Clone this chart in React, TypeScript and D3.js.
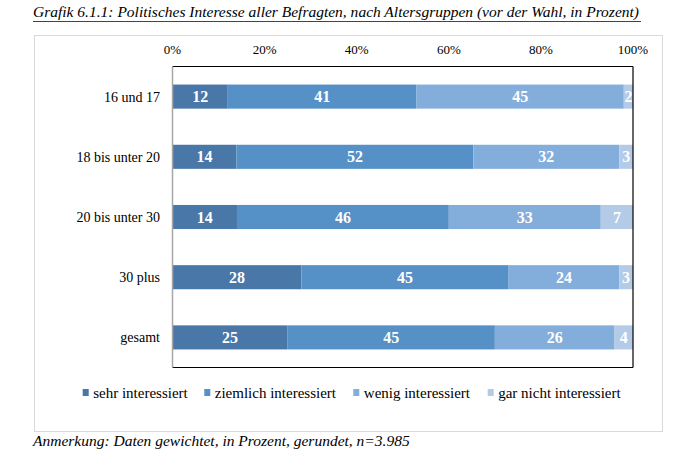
import React from "react";
import * as d3 from "d3";

const categories = ["16 und 17", "18 bis unter 20", "20 bis unter 30", "30 plus", "gesamt"];
const seriesNames = ["sehr interessiert", "ziemlich interessiert", "wenig interessiert", "gar nicht interessiert"];
const sehr = [12, 14, 14, 28, 25];
const ziemlich = [41, 52, 46, 45, 45];
const wenig = [45, 32, 33, 24, 26];
const garNicht = [2, 3, 7, 3, 4];
const tickValues = [0, 0.2, 0.4, 0.6, 0.8, 1];
const colors = ["#4877a8", "#5590c7", "#83aedb", "#b3cbe7"];

const title = "Grafik 6.1.1: Politisches Interesse aller Befragten, nach Altersgruppen (vor der Wahl, in Prozent)";
const note = "Anmerkung: Daten gewichtet, in Prozent, gerundet, n=3.985";

const FONT = "Liberation Serif";

export default function App() {
  const W = 690, H = 459;
  const left = 172.5, right = 633, top = 66.5, bottom = 367.5;
  const x = d3.scaleLinear().domain([0, 1]).range([left, right]);
  const y = d3.scaleBand().domain(categories).range([top, bottom]).paddingInner(0.6).paddingOuter(0.3);
  const series = [sehr, ziemlich, wenig, garNicht];
  const rows = categories.map((c, i) => {
    const o: any = { cat: c };
    seriesNames.forEach((s, k) => (o[s] = series[k][i]));
    return o;
  });
  const stack = d3.stack<any>().keys(seriesNames).offset(d3.stackOffsetExpand);
  const stacked = stack(rows);
  const legendX = [82.7, 204.3, 353.3, 487.7];
  const ts = { fontFamily: FONT };

  return (
    <svg width={W} height={H} style={{ position: "absolute", left: 0, top: 0, fontFamily: FONT }}>
      <rect width={W} height={H} fill="#fff" />
      <text x={33} y={17} fontSize={15.6} fontStyle="italic" fill="#000" style={ts} textLength={606} lengthAdjust="spacingAndGlyphs">
        {title}
      </text>
      <line x1={33} x2={641} y1={21.5} y2={21.5} stroke="#444" strokeWidth={1} />
      <rect x={34.5} y={35.5} width={628} height={396} fill="none" stroke="#d9d9d9" strokeWidth={1} />
      {tickValues.map((t) => (
        <text key={t} x={x(t)} y={54} fontSize={13} textAnchor="middle" fill="#000" style={ts}>
          {d3.format(".0%")(t)}
        </text>
      ))}
      {stacked.map((layer, k) => (
        <g key={layer.key}>
          {layer.map((d, i) => {
            const x0 = x(d[0]);
            const x1 = x(d[1]);
            const cy = (y(categories[i]) as number) + y.bandwidth() / 2;
            return (
              <g key={i}>
                <rect x={x0} y={y(categories[i])} width={x1 - x0} height={y.bandwidth()} fill={colors[k]} />
                <text x={(x0 + x1) / 2} y={cy + 5.5} fontSize={16} fontWeight="bold" fill="#fff" textAnchor="middle" style={ts}>
                  {series[k][i]}
                </text>
              </g>
            );
          })}
        </g>
      ))}
      <line x1={left} x2={right} y1={top} y2={top} stroke="#000" strokeWidth={1.2} />
      <line x1={right} x2={right} y1={top} y2={bottom} stroke="#000" strokeWidth={1.2} />
      <line x1={left} x2={right} y1={bottom} y2={bottom} stroke="#000" strokeWidth={1.2} />
      <line x1={left} x2={left} y1={top} y2={bottom} stroke="#a6a6a6" strokeWidth={1.5} />
      {categories.map((c) => (
        <text key={c} x={160} y={(y(c) as number) + y.bandwidth() / 2 + 5} fontSize={14} textAnchor="end" fill="#000" style={ts}>
          {c}
        </text>
      ))}
      {seriesNames.map((s, k) => (
        <g key={s}>
          <rect x={legendX[k]} y={389} width={6} height={7} fill={colors[k]} />
          <text x={legendX[k] + 10.5} y={398} fontSize={15} fill="#000" style={ts}>
            {s}
          </text>
        </g>
      ))}
      <text x={33} y={446} fontSize={15.5} fontStyle="italic" fill="#000" style={ts}>
        {note}
      </text>
    </svg>
  );
}
